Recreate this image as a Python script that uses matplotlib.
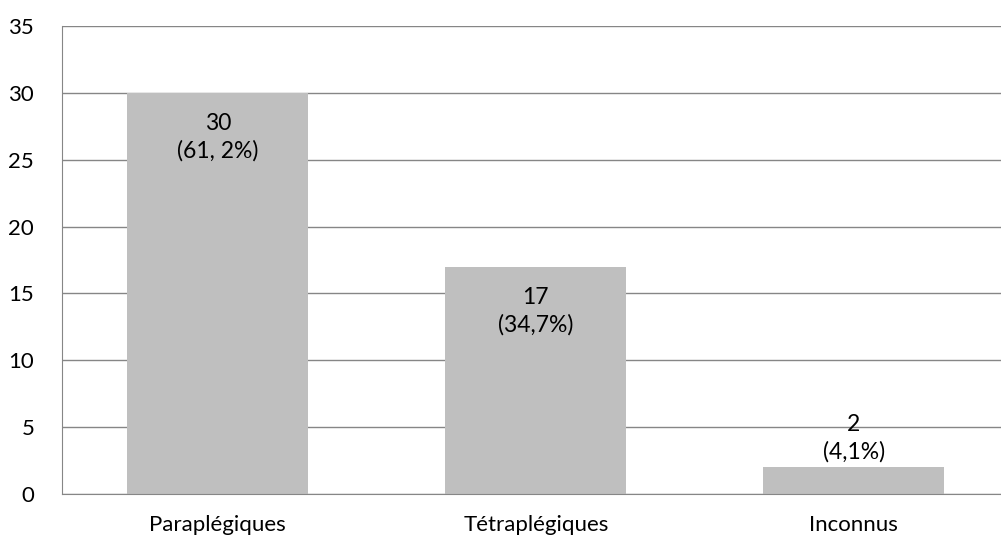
import matplotlib
matplotlib.use("Agg")
import matplotlib.pyplot as plt

plt.rcParams['font.family'] = ['Lato', 'DejaVu Sans']

categories = ['Paraplégiques', 'Tétraplégiques', 'Inconnus']
counts = [30, 17, 2]
labels = ['30\n(61, 2%)', '17\n(34,7%)', '2\n(4,1%)']

fig = plt.figure(figsize=(10.01, 5.40), dpi=100)
# category slots are ~318 px wide, so the axes run a little past the right edge
ax = fig.add_axes([62 / 1001, 46 / 540, 954 / 1001, 468 / 540])

grey = '#868686'
x = range(len(categories))
bars = ax.bar(x, counts, width=0.57, color='#bfbfbf', zorder=2)

# data labels: inside end, pushed above when the bar is too short
for b, v, txt in zip(bars, counts, labels):
    cx = b.get_x() + b.get_width() / 2
    if v >= 5:
        ax.text(cx, v - 1.5, txt, ha='center', va='top', fontsize=16.5,
                linespacing=1.35, zorder=3)
    else:
        ax.text(cx, v + 0.35, txt, ha='center', va='bottom', fontsize=16.5,
                linespacing=1.35, zorder=1)

ax.set_xlim(-0.49, 2.51)
ax.set_ylim(0, 35)
ax.set_yticks(range(0, 36, 5))
ax.set_xticks(list(x))
ax.set_xticklabels(categories)
ax.yaxis.grid(True, color=grey, linewidth=1, zorder=0)
ax.set_axisbelow(True)
ax.tick_params(axis='both', length=0, labelsize=16)
ax.tick_params(axis='y', pad=20)
ax.tick_params(axis='x', pad=15)
for s in ['top', 'right']:
    ax.spines[s].set_visible(False)
ax.spines['left'].set_color(grey)
ax.spines['bottom'].set_color(grey)

fig.savefig('out.png', dpi=100)
